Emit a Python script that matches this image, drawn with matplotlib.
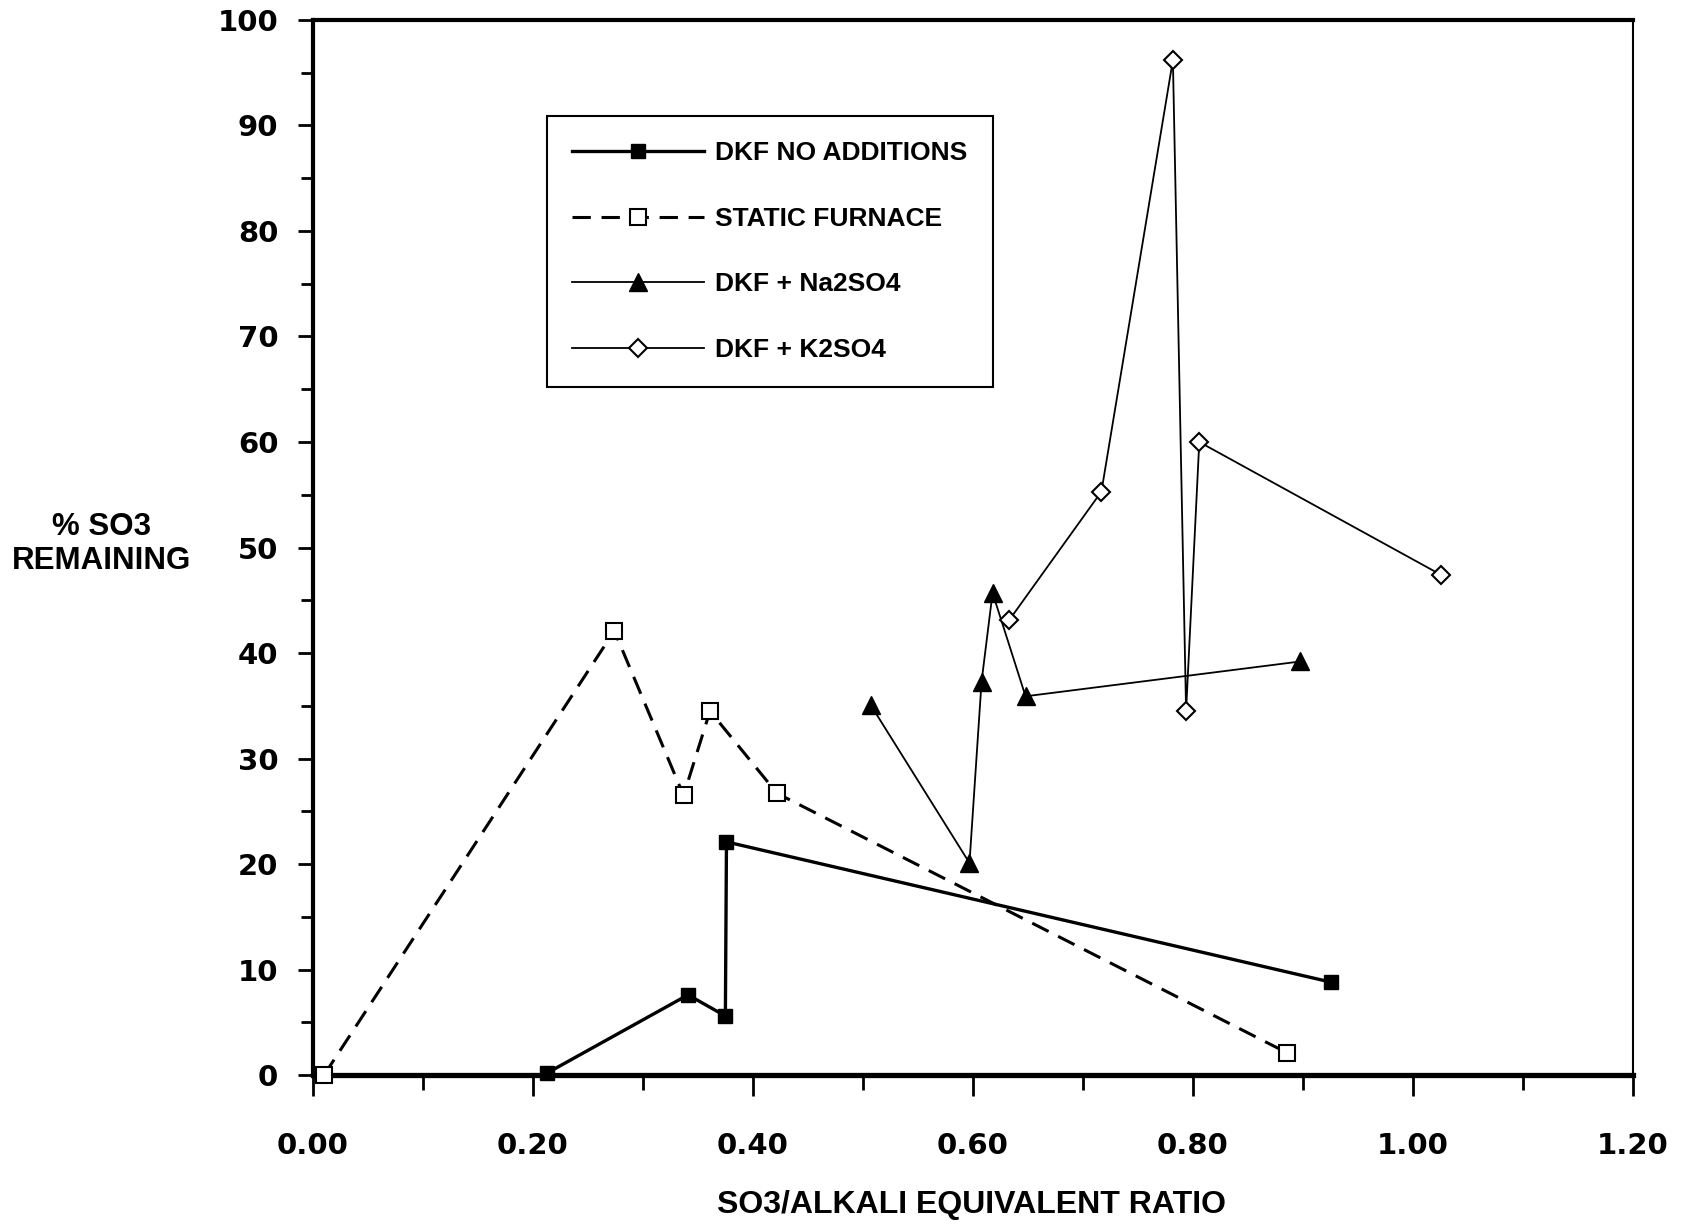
import matplotlib
matplotlib.use("Agg")
import matplotlib.pyplot as plt
from matplotlib.ticker import MultipleLocator

# SO3/alkali ratio vs % SO3 remaining
x_no_add = [0.213, 0.341, 0.375, 0.376, 0.926]
y_no_add = [0.2, 7.6, 5.6, 22.1, 8.8]

x_static = [0.010, 0.274, 0.337, 0.361, 0.422, 0.886]
y_static = [0.0, 42.1, 26.5, 34.5, 26.7, 2.1]

x_na = [0.507, 0.597, 0.608, 0.618, 0.648, 0.898]
y_na = [35.1, 20.1, 37.3, 45.7, 35.9, 39.2]

x_k = [0.633, 0.717, 0.782, 0.794, 0.806, 1.026]
y_k = [43.1, 55.3, 96.2, 34.5, 60.0, 47.4]

x_ticks = [0.0, 0.2, 0.4, 0.6, 0.8, 1.0, 1.2]
x_labels = ["0.00", "0.20", "0.40", "0.60", "0.80", "1.00", "1.20"]
y_ticks = list(range(0, 101, 10))

label_font = ["Liberation Sans", "DejaVu Sans"]
tick_font = ["DejaVu Sans"]

fig = plt.figure(figsize=(16.83, 12.25), dpi=100)
ax = fig.add_axes([0.186, 0.1224, 0.784, 0.8613])

ax.plot(x_no_add, y_no_add, color="black", lw=2.4, marker="s", ms=10,
        mfc="black", mec="black", label="DKF NO ADDITIONS", clip_on=False, zorder=3)
ax.plot(x_static, y_static, color="black", lw=2.2, ls=(0, (6, 3.5)), marker="s", ms=11,
        mfc="white", mec="black", mew=1.5, label="STATIC FURNACE", clip_on=False, zorder=3)
ax.plot(x_na, y_na, color="black", lw=1.3, marker="^", ms=13,
        mfc="black", mec="black", label="DKF + Na2SO4", clip_on=False, zorder=3)
ax.plot(x_k, y_k, color="black", lw=1.3, marker="D", ms=9.5,
        mfc="white", mec="black", mew=1.5, label="DKF + K2SO4", clip_on=False, zorder=3)

ax.set_xlim(0, 1.2)
ax.set_ylim(0, 100)

ax.set_xticks(x_ticks)
ax.set_xticklabels(x_labels)
ax.set_yticks(y_ticks)
ax.xaxis.set_minor_locator(MultipleLocator(0.1))
ax.yaxis.set_minor_locator(MultipleLocator(5))

ax.tick_params(axis="x", which="major", direction="out", length=15, width=2, pad=26,
               labelsize=21)
ax.tick_params(axis="x", which="minor", direction="out", length=11, width=2)
ax.tick_params(axis="y", which="major", direction="out", length=11, width=2, pad=14,
               labelsize=21)
ax.tick_params(axis="y", which="minor", direction="out", length=9, width=2)
for lab in ax.get_xticklabels() + ax.get_yticklabels():
    lab.set_fontfamily(tick_font)
    lab.set_fontweight("bold")

ax.spines["bottom"].set_linewidth(3.8)
ax.spines["left"].set_linewidth(3.0)
ax.spines["top"].set_linewidth(3.0)
ax.spines["right"].set_linewidth(1.5)

leg = ax.legend(loc="upper left", bbox_to_anchor=(0.177, 0.909), borderaxespad=0,
                frameon=True, fancybox=False, edgecolor="black", framealpha=1,
                handlelength=5.0, handletextpad=0.45, borderpad=0.95, labelspacing=1.58,
                prop={"family": label_font, "weight": "bold", "size": 19})
leg.get_frame().set_linewidth(1.5)

fig.text(0.0606, 0.556, "% SO3\nREMAINING", ha="center", va="center",
         family=label_font, weight="bold", size=22.5, linespacing=1.2)
fig.text(0.577, 0.0163, "SO3/ALKALI EQUIVALENT RATIO", ha="center", va="center",
         family=label_font, weight="bold", size=23)

fig.savefig("out.png", dpi=100)
